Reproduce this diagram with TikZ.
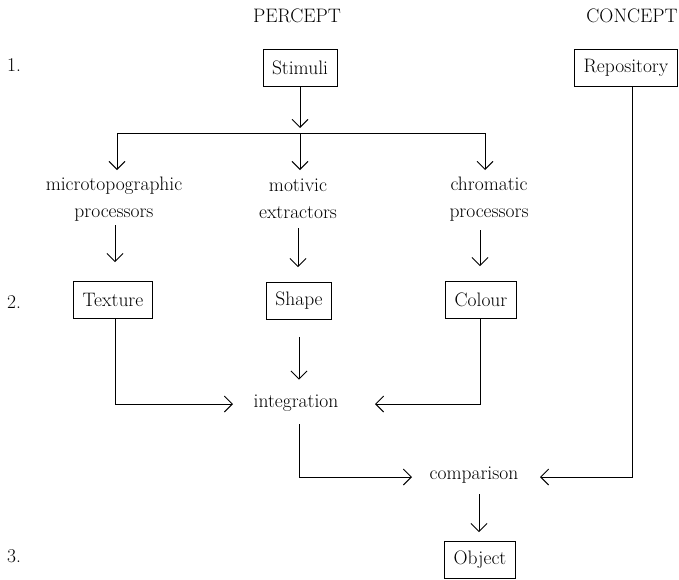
\documentclass[tikz,border=0pt]{standalone}
\usetikzlibrary{arrows.meta}
\begin{document}
\begin{tikzpicture}[x=1pt,y=-1pt,
  every node/.style={font=\fontsize{19.5}{27}\selectfont, inner sep=3pt},
  lbl/.style={align=center},
  boxnode/.style={draw, line width=0.9pt, minimum height=37pt, inner xsep=9pt},
  conn/.style={line width=0.9pt},
  arr/.style={conn, -{Straight Barb[length=8pt,width=16pt,line width=0.9pt]}}]
\useasboundingbox (0,0) rectangle (679,579);
% headings
\node (percept) at (297,16) {PERCEPT};
\node (concept) at (632,16) {CONCEPT};
\node (n1) at (14,65) {1.};
\node (n2) at (14,302) {2.};
\node (n3) at (14,556) {3.};
% boxes
\node[boxnode] (stim) at (300,68) {Stimuli};
\node[boxnode] (repo) at (626,68) {Repository};
\node[boxnode] (tex) at (113,300) {Texture};
\node[boxnode] (shape) at (299,301) {Shape};
\node[boxnode] (colour) at (481,300) {Colour};
\node[boxnode] (obj) at (480,560) {Object};
% labels
\node[lbl] (micro) at (114,199) {microtopographic\\processors};
\node[lbl] (motiv) at (298,199) {motivic\\extractors};
\node[lbl] (chrom) at (489,199) {chromatic\\processors};
\node (integ) at (296,403) {integration};
\node (comp) at (474,475) {comparison};
% coordinates
\coordinate (stimtip) at (300,128);
\coordinate (busL) at (117,133);
\coordinate (busM) at (300,133);
\coordinate (busR) at (485,133);
\coordinate (t1) at (117,170);
\coordinate (t2) at (300,170);
\coordinate (t3) at (485,170);
\coordinate (inL) at (233,404);
\coordinate (inR) at (375,404);
\coordinate (cpL) at (412,477);
\coordinate (cpR) at (540,477);
% connectors
\draw[arr] (stim) -- (stimtip);
\draw[conn] (busL) -- (busR);
\draw[arr] (busL) -- (t1);
\draw[arr] (busM) -- (t2);
\draw[arr] (busR) -- (t3);
\draw[arr, shorten <=1pt, shorten >=19pt] ([xshift=1pt]micro.south) -- ([xshift=1pt]micro.south |- tex.north);
\draw[arr, shorten <=6pt, shorten >=15pt] (motiv.south) -- (motiv.south |- shape.north);
\draw[arr, shorten <=6pt, shorten >=15pt] ([xshift=-9pt]chrom.south) -- ([xshift=-9pt]chrom.south |- colour.north);
\draw[arr] ([xshift=2pt]tex.south) |- (inL);
\draw[arr] ([xshift=-1pt]colour.south) |- (inR);
\draw[arr, shorten <=17pt, shorten >=12pt] ([xshift=3pt]integ.north |- shape.south) -- ([xshift=3pt]integ.north);
\draw[arr, shorten <=10pt] ([xshift=3pt]integ.south) |- (cpL);
\draw[arr] ([xshift=6pt]repo.south) |- (cpR);
\draw[arr, shorten <=8pt, shorten >=9pt] ([xshift=5pt]comp.south) -- ([xshift=5pt]comp.south |- obj.north);
\end{tikzpicture}
\end{document}
